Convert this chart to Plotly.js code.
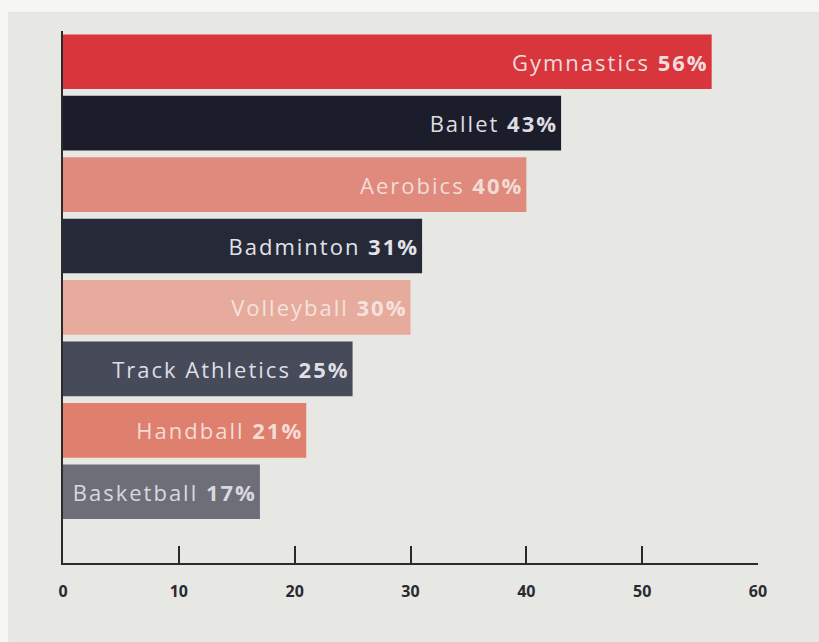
<!DOCTYPE html>
<html>
<head>
<meta charset="utf-8">
<script src="https://cdn.plot.ly/plotly-3.0.1.min.js"></script>
<style>html,body{margin:0;padding:0;background:#e7e7e4;}#chart{width:819px;height:642px;}
.bartext{letter-spacing:2px;}</style>
</head>
<body>
<div id="chart"></div>
<script>
const sports = ["Gymnastics", "Ballet", "Aerobics", "Badminton", "Volleyball", "Track Athletics", "Handball", "Basketball"];
const percents = [56, 43, 40, 31, 30, 25, 21, 17];
const barColors = ["#d8353d", "#1b1e2a", "#df8a7d", "#262a38", "#e6ab9c", "#464a59", "#df7f6e", "#6d6e78"];
const textColors = ["#f0dcda", "#dcdce2", "#f2dcd6", "#e2e2e8", "#f4e2dc", "#dedee4", "#f4dcd5", "#d8d8de"];
const tickVals = [0, 10, 20, 30, 40, 50, 60];
const tickText = ["0", "10", "20", "30", "40", "50", "60"];

const labels = sports.map((s, i) => s + " <b>" + percents[i] + "%</b>");

const trace = {
  type: "bar",
  orientation: "h",
  y: sports,
  x: percents,
  text: labels,
  textposition: "inside",
  insidetextanchor: "end",
  textangle: 0,
  constraintext: "none",
  cliponaxis: false,
  insidetextfont: {family: "Open Sans, sans-serif", size: 22, color: textColors},
  marker: {color: barColors, line: {width: 0}},
  hoverinfo: "none"
};

const layout = {
  width: 819,
  height: 642,
  margin: {l: 63, r: 61, t: 31, b: 79},
  paper_bgcolor: "#e7e7e4",
  plot_bgcolor: "rgba(0,0,0,0)",
  bargap: 0.11,
  showlegend: false,
  xaxis: {
    range: [0, 60],
    tickvals: tickVals,
    ticktext: tickText,
    ticks: "inside",
    ticklen: 17,
    tickwidth: 2,
    tickcolor: "#2b2b2e",
    showline: true,
    linecolor: "#2b2b2e",
    linewidth: 2,
    showgrid: false,
    zeroline: false,
    tickfont: {family: "Open Sans, sans-serif", size: 16, color: "#2a2a2e", weight: "bold"},
    ticklabelstandoff: 13
  },
  yaxis: {
    type: "category",
    categoryorder: "array",
    categoryarray: sports,
    range: [8.16, -0.5],
    showticklabels: false,
    ticks: "",
    showline: true,
    linecolor: "#2b2b2e",
    linewidth: 2,
    showgrid: false,
    zeroline: false
  },
  shapes: [
    {type: "rect", xref: "paper", yref: "paper", x0: -0.2, x1: 1.2, y0: 1.036, y1: 1.2, fillcolor: "#f6f6f4", line: {width: 0}, layer: "below"},
    {type: "rect", xref: "paper", yref: "paper", x0: -0.2, x1: -0.079, y0: -0.3, y1: 1.2, fillcolor: "#f6f6f4", line: {width: 0}, layer: "below"}
  ]
};

Plotly.newPlot("chart", [trace], layout, {staticPlot: true, displayModeBar: false});
</script>
</body>
</html>
